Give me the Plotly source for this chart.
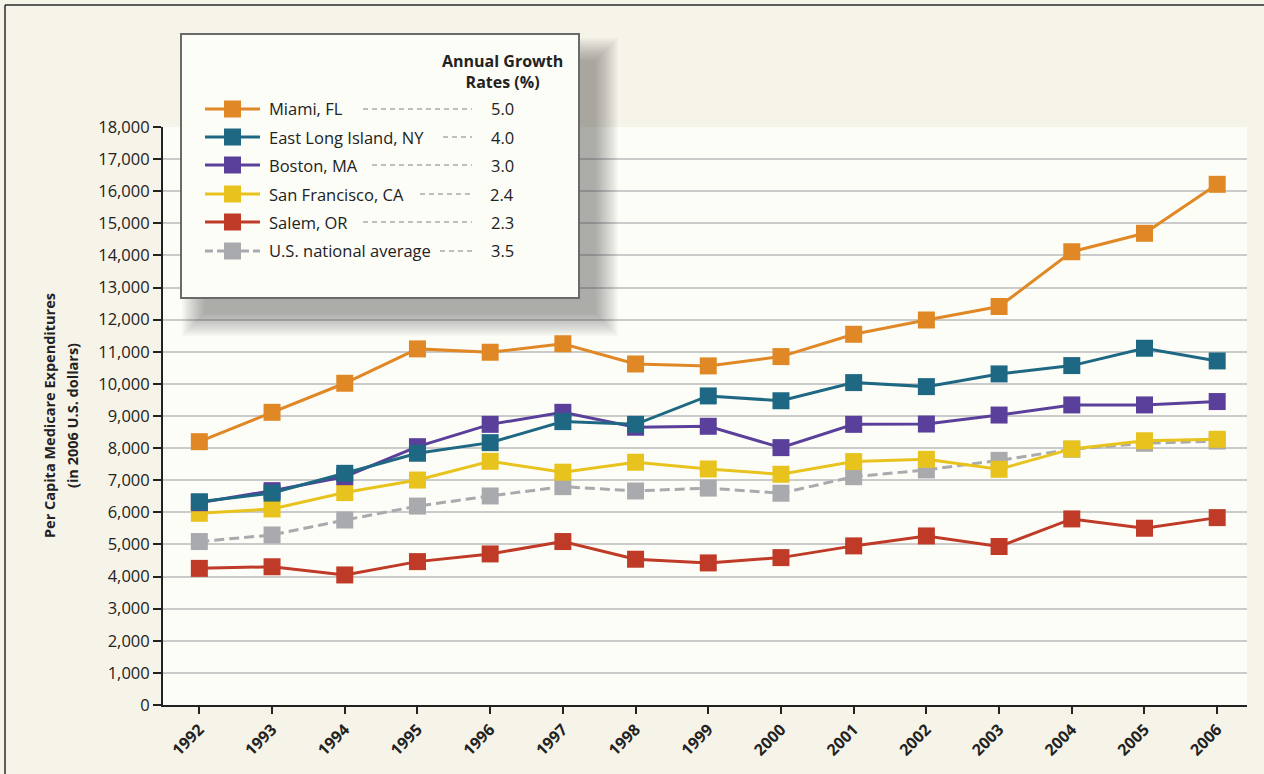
import plotly.graph_objects as go

years = list(range(1992, 2007))
year_labels = [str(y) for y in years]

miami = [8200, 9115, 10020, 11090, 10985, 11250, 10620, 10560, 10850, 11545, 11990, 12410, 14115, 14690, 16215]
east_long_island = [6330, 6600, 7215, 7840, 8170, 8825, 8740, 9625, 9475, 10040, 9915, 10310, 10570, 11110, 10715]
boston = [6300, 6675, 7110, 8045, 8740, 9115, 8650, 8680, 8015, 8740, 8750, 9030, 9345, 9345, 9450]
san_francisco = [5970, 6105, 6615, 7005, 7590, 7250, 7560, 7350, 7185, 7580, 7650, 7340, 7975, 8230, 8275]
salem = [4255, 4305, 4050, 4465, 4705, 5090, 4540, 4425, 4590, 4955, 5265, 4935, 5795, 5505, 5835]
us_average = [5090, 5295, 5760, 6195, 6510, 6800, 6665, 6755, 6595, 7110, 7320, 7620, 7965, 8150, 8220]

series_names = ["Miami, FL", "East Long Island, NY", "Boston, MA", "San Francisco, CA", "Salem, OR", "U.S. national average"]
growth_rates = ["5.0", "4.0", "3.0", "2.4", "2.3", "3.5"]
y_ticks = list(range(0, 18001, 1000))
y_tick_labels = [f"{v:,}" for v in y_ticks]

colors = {
    "Miami, FL": "#E08826",
    "East Long Island, NY": "#1F6883",
    "Boston, MA": "#5A409A",
    "San Francisco, CA": "#E9C31D",
    "Salem, OR": "#BF3A27",
    "U.S. national average": "#A9AAAE",
}
data = {
    "Miami, FL": miami,
    "East Long Island, NY": east_long_island,
    "Boston, MA": boston,
    "San Francisco, CA": san_francisco,
    "Salem, OR": salem,
    "U.S. national average": us_average,
}

FONT = "Open Sans"
TXT = "#222222"
fig = go.Figure()
draw_order = ["U.S. national average", "Salem, OR", "San Francisco, CA", "Boston, MA", "East Long Island, NY", "Miami, FL"]
for name in draw_order:
    dashed = name == "U.S. national average"
    fig.add_trace(go.Scatter(
        x=years, y=data[name], name=name, mode="lines+markers",
        line=dict(color=colors[name], width=3, dash="10px,5px" if dashed else "solid"),
        marker=dict(symbol="square", size=17, color=colors[name], line=dict(width=0)),
        showlegend=False, hoverinfo="x+y+name",
    ))

# plot geometry (pixels) for placing the custom legend
L, R, T, B = 163, 1247, 127, 705
def px(x):
    return (x - L) / (R - L)
def py(y):
    return (B - y) / (B - T)

shapes = []
annotations = []

# outer frame lines (top and left)
shapes.append(dict(type="line", xref="paper", yref="paper", x0=px(5), x1=px(1264), y0=py(5), y1=py(5),
                   line=dict(color="#2b2b2b", width=1.5), layer="above"))
shapes.append(dict(type="line", xref="paper", yref="paper", x0=px(5), x1=px(5), y0=py(5), y1=py(774),
                   line=dict(color="#2b2b2b", width=1.5), layer="above"))

# legend soft shadow
bx0, by0, bx1, by1 = 181, 34, 579, 298
sx0, sy0, sx1, sy1 = 206, 62, 594, 312
n = 16
for k in range(n):
    pad = 24 - k * 1.5
    shapes.append(dict(type="rect", xref="paper", yref="paper",
                       x0=px(sx0 - pad), x1=px(sx1 + pad),
                       y0=py(sy0 - pad), y1=py(sy1 + pad),
                       fillcolor="rgba(70,70,70,0.03)", line=dict(width=0), layer="above"))
shapes.append(dict(type="rect", xref="paper", yref="paper", x0=px(bx0), x1=px(bx1), y0=py(by0), y1=py(by1),
                   fillcolor="#FDFDF8", line=dict(color="#6a6a6a", width=2), layer="above"))

annotations.append(dict(xref="paper", yref="paper", x=px(502), y=py(71), text="<b>Annual Growth<br>Rates (%)</b>",
                        showarrow=False, xanchor="center", yanchor="middle",
                        font=dict(family=FONT, size=16, color=TXT), align="center"))

row_y = [109, 137, 165, 194, 222, 251]
leader_x0 = [363, 443, 372, 420, 363, 440]
for i, name in enumerate(series_names):
    yy = row_y[i]
    dashed = name == "U.S. national average"
    shapes.append(dict(type="line", xref="paper", yref="paper", x0=px(205), x1=px(260), y0=py(yy), y1=py(yy),
                       line=dict(color=colors[name], width=3, dash="8px,4px" if dashed else "solid"), layer="above"))
    shapes.append(dict(type="rect", xref="paper", yref="paper", x0=px(224), x1=px(241), y0=py(yy - 8.5), y1=py(yy + 8.5),
                       fillcolor=colors[name], line=dict(width=0), layer="above"))
    shapes.append(dict(type="line", xref="paper", yref="paper", x0=px(leader_x0[i]), x1=px(472), y0=py(yy), y1=py(yy),
                       line=dict(color="#A9A9A9", width=1.3, dash="5px,4px"), layer="above"))
    annotations.append(dict(xref="paper", yref="paper", x=px(267), y=py(yy), text=name, showarrow=False,
                            xanchor="left", yanchor="middle", font=dict(family=FONT, size=16.5, color=TXT)))
    annotations.append(dict(xref="paper", yref="paper", x=px(502), y=py(yy), text=growth_rates[i], showarrow=False,
                            xanchor="center", yanchor="middle", font=dict(family=FONT, size=16.5, color=TXT)))

annotations.append(dict(xref="paper", yref="paper", x=px(49), y=0.5,
                        text="<b>Per Capita Medicare Expenditures</b>",
                        showarrow=False, textangle=-90, xanchor="center", yanchor="middle",
                        font=dict(family=FONT, size=14.5, color=TXT)))
annotations.append(dict(xref="paper", yref="paper", x=px(72), y=0.5,
                        text="<b>(in 2006 U.S. dollars)</b>",
                        showarrow=False, textangle=-90, xanchor="center", yanchor="middle",
                        font=dict(family=FONT, size=14.5, color=TXT)))

fig.update_layout(
    width=1264, height=774,
    margin=dict(l=L, r=1264 - R, t=T, b=774 - B, autoexpand=False),
    paper_bgcolor="#F6F4E9",
    plot_bgcolor="#FDFDF8",
    shapes=shapes,
    annotations=annotations,
    showlegend=False,
    font=dict(family=FONT, color=TXT),
    xaxis=dict(
        range=[1991.5, 2006.41], tickmode="array", tickvals=years, ticktext=[f"<b>{t}</b>" for t in year_labels],
        tickangle=-45, ticks="outside", ticklen=7, tickwidth=2, tickcolor=TXT,
        showline=True, linecolor=TXT, linewidth=2, showgrid=False, zeroline=False,
        tickfont=dict(family=FONT, size=16, color=TXT),
    ),
    yaxis=dict(
        range=[0, 18000], tickmode="array", tickvals=y_ticks, ticktext=y_tick_labels,
        ticks="outside", ticklen=8, tickwidth=2, tickcolor=TXT,
        showline=True, linecolor=TXT, linewidth=2,
        showgrid=True, gridcolor="#CBCBCB", gridwidth=1.5, zeroline=False,
        tickfont=dict(family=FONT, size=16.5, color=TXT),
    ),
)

fig.write_html("out.html", config={"displayModeBar": False},
               post_script="document.body.style.margin='0';document.body.style.background='#F6F4E9';")
